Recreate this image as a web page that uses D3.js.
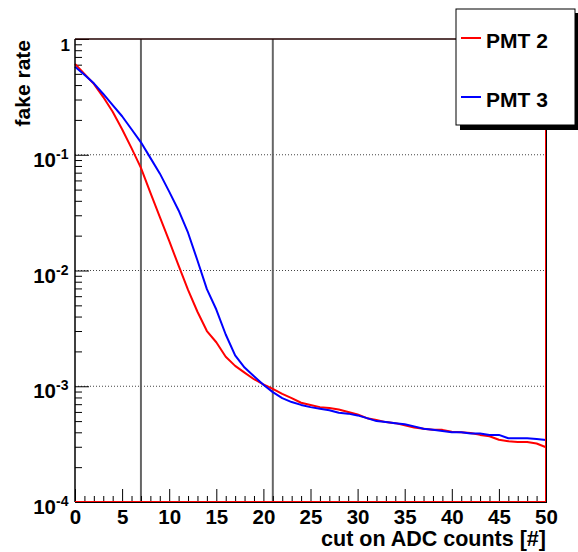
<!DOCTYPE html>
<html>
<head>
<meta charset="utf-8">
<script src="https://cdn.jsdelivr.net/npm/d3@7"></script>
<style>
  html, body { margin: 0; padding: 0; background: #fff; }
  svg { display: block; }
  text { font-family: "Liberation Sans", Arial, Helvetica, sans-serif; font-weight: bold; fill: #000; }
</style>
</head>
<body>
<svg id="chart" width="578" height="552"></svg>
<script>
// ---------- data ----------
const adcCuts = d3.range(0, 51);
const pmt2 = [0.61, 0.50, 0.41, 0.315, 0.235, 0.166, 0.114, 0.077, 0.047, 0.029,
  0.018, 0.011, 0.0068, 0.0044, 0.0030, 0.0024, 0.0018, 0.0015, 0.00131, 0.00115,
  0.00104, 0.00095, 0.00086, 0.00079, 0.00072, 0.00069, 0.00066, 0.00065, 0.00063, 0.00060,
  0.00057, 0.00053, 0.00051, 0.00049, 0.00048, 0.00046, 0.00044, 0.00043, 0.00042, 0.00042,
  0.000405, 0.00040, 0.000395, 0.00038, 0.00037, 0.000345, 0.000335, 0.00033, 0.00033, 0.00032,
  0.000297];
const pmt3 = [0.575, 0.49, 0.414, 0.335, 0.268, 0.215, 0.166, 0.128, 0.094, 0.069,
  0.048, 0.033, 0.0212, 0.0122, 0.0069, 0.0046, 0.0028, 0.00185, 0.00145, 0.00122,
  0.00103, 0.00089, 0.00079, 0.00073, 0.00069, 0.00066, 0.00064, 0.00062, 0.00059, 0.00058,
  0.00056, 0.00053, 0.00050, 0.00049, 0.00048, 0.00047, 0.00045, 0.00043, 0.00042, 0.00041,
  0.00040, 0.00040, 0.00039, 0.00039, 0.00038, 0.00038, 0.000355, 0.000355, 0.000355, 0.00035,
  0.000343];
const seriesNames = ["PMT 2", "PMT 3"];
const seriesColors = ["#ff0000", "#0000ff"];
const xMajorTicks = [0, 5, 10, 15, 20, 25, 30, 35, 40, 45, 50];
const yDecades = [1, 1e-1, 1e-2, 1e-3, 1e-4];
const yDecadeExp = ["", "-1", "-2", "-3", "-4"];
const cutLines = [7, 21];
const gridDecades = [1e-1, 1e-2, 1e-3];
const xTitle = "cut on ADC counts [#]";
const yTitle = "fake rate";

// ---------- layout ----------
const L = 75, R = 546, T = 39, B = 502;
const svg = d3.select("#chart");
const x = d3.scaleLinear().domain([0, 50]).range([L, R]);
const y = d3.scaleLog().domain([1e-4, 1]).range([B, T]);

// grid (dotted)
svg.append("g").selectAll("line").data(gridDecades).join("line")
  .attr("x1", L).attr("x2", R)
  .attr("y1", d => y(d)).attr("y2", d => y(d))
  .attr("stroke", "#444").attr("stroke-width", 1).attr("stroke-dasharray", "1,2");

// vertical cut lines
svg.append("g").selectAll("line").data(cutLines).join("line")
  .attr("x1", d => x(d)).attr("x2", d => x(d))
  .attr("y1", T).attr("y2", B)
  .attr("stroke", "#666").attr("stroke-width", 2);

// x axis ticks
const xMinor = d3.range(0, 51).filter(v => v % 5 !== 0);
const gxMin = svg.append("g").attr("transform", `translate(0,${B})`)
  .call(d3.axisBottom(x).tickValues(xMinor).tickSize(-6).tickFormat(""));
const gxMaj = svg.append("g").attr("transform", `translate(0,${B})`)
  .call(d3.axisBottom(x).tickValues(xMajorTicks).tickSize(-13).tickPadding(7).tickFormat(d3.format("d")));
[gxMin, gxMaj].forEach(g => { g.select(".domain").remove(); g.selectAll("line").attr("stroke", "#000"); });
gxMaj.selectAll("text").attr("font-size", 20.5).attr("dy", "0.71em").attr("fill", "#000")
  .style("font-family", '"Liberation Sans", Arial, sans-serif').style("font-weight", "bold");

// y axis ticks
const yMinor = [];
[1e-4, 1e-3, 1e-2, 1e-1].forEach(dec => { for (let k = 2; k <= 9; k++) yMinor.push(dec * k); });
const gyMin = svg.append("g").attr("transform", `translate(${L},0)`)
  .call(d3.axisLeft(y).tickValues(yMinor).tickSize(-7).tickFormat(""));
const gyMaj = svg.append("g").attr("transform", `translate(${L},0)`)
  .call(d3.axisLeft(y).tickValues(yDecades).tickSize(-14).tickFormat(""));
[gyMin, gyMaj].forEach(g => { g.select(".domain").remove(); g.selectAll("line").attr("stroke", "#000"); });

// y labels
const yl = svg.append("g");
yDecades.forEach((d, i) => {
  if (yDecadeExp[i] === "") {
    yl.append("text").attr("x", 70).attr("y", y(d) + 12)
      .attr("text-anchor", "end").attr("font-size", 17).text("1");
  } else {
    yl.append("text").attr("x", 56).attr("y", y(d) + 12)
      .attr("text-anchor", "end").attr("font-size", 20.5).text("10");
    yl.append("text").attr("x", 56).attr("y", y(d) + 4)
      .attr("text-anchor", "start").attr("font-size", 14).text(yDecadeExp[i]);
  }
});

// curves
const line = d3.line().x((d, i) => x(adcCuts[i])).y(d => y(d));
[pmt2, pmt3].forEach((s, i) => {
  svg.append("path").datum(s).attr("d", line)
    .attr("fill", "none").attr("stroke", seriesColors[i]).attr("stroke-width", 2)
    .attr("stroke-linejoin", "round");
});

// frame
svg.append("line").attr("x1", L).attr("x2", L).attr("y1", T).attr("y2", B).attr("stroke", "#000").attr("stroke-width", 1.5);
svg.append("line").attr("x1", L).attr("x2", R + 1).attr("y1", T).attr("y2", T).attr("stroke", "#200").attr("stroke-width", 1.5);
svg.append("line").attr("x1", L).attr("x2", R + 1).attr("y1", B + 0.5).attr("y2", B + 0.5).attr("stroke", "#000").attr("stroke-width", 1);
svg.append("line").attr("x1", L).attr("x2", R).attr("y1", B - 0.5).attr("y2", B - 0.5).attr("stroke", "#f00").attr("stroke-width", 1);
svg.append("line").attr("x1", R + 0.5).attr("x2", R + 0.5).attr("y1", T).attr("y2", B).attr("stroke", "#000").attr("stroke-width", 1);
svg.append("line").attr("x1", R - 0.5).attr("x2", R - 0.5).attr("y1", T).attr("y2", B).attr("stroke", "#f00").attr("stroke-width", 1);

// axis titles
svg.append("text").attr("x", R).attr("y", 546).attr("text-anchor", "end")
  .attr("font-size", 21.5).text(xTitle);
svg.append("text").attr("transform", `translate(30,${T + 1}) rotate(-90)`)
  .attr("text-anchor", "end").attr("font-size", 21).text(yTitle);

// legend
const lg = svg.append("g");
lg.append("rect").attr("x", 460).attr("y", 13).attr("width", 120).attr("height", 117).attr("fill", "#000");
lg.append("rect").attr("x", 456).attr("y", 9).attr("width", 119).attr("height", 116)
  .attr("fill", "#fff").attr("stroke", "#000").attr("stroke-width", 1);
const legY = [38, 97];
seriesNames.forEach((n, i) => {
  lg.append("line").attr("x1", 461).attr("x2", 481).attr("y1", legY[i]).attr("y2", legY[i])
    .attr("stroke", seriesColors[i]).attr("stroke-width", 2);
  lg.append("text").attr("x", 486).attr("y", legY[i] + 10).attr("font-size", 21).text(n);
});
</script>
</body>
</html>
